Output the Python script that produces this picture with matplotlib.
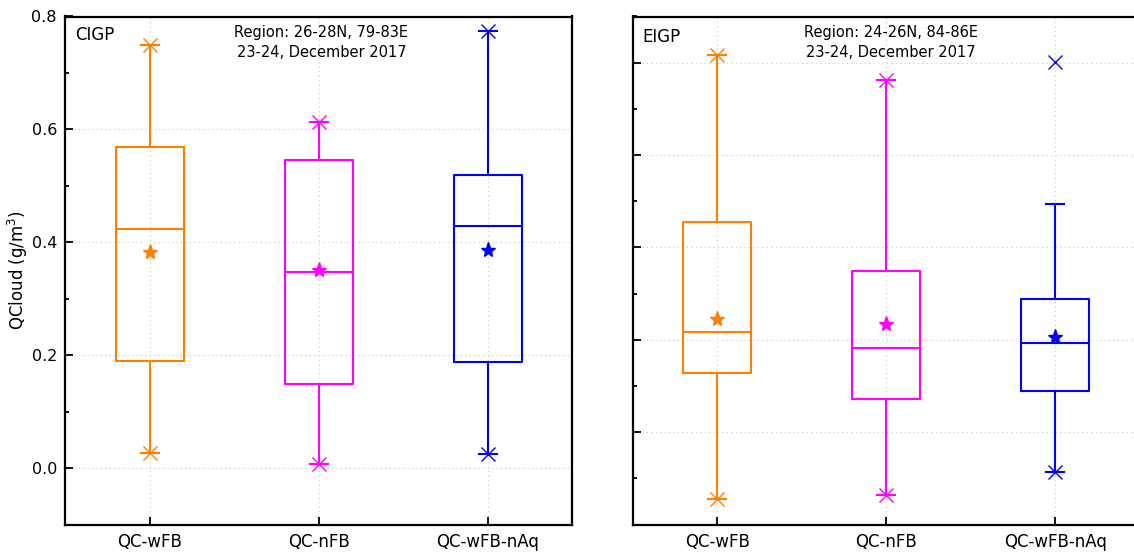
import matplotlib.pyplot as plt
from matplotlib.ticker import MultipleLocator, NullFormatter

categories = ["QC-wFB", "QC-nFB", "QC-wFB-nAq"]
colors = ["#FF8000", "#FF00FF", "#0000FF"]

# CIGP panel (g/m3)
cigp_lo = [0.026, 0.008, 0.025]
cigp_q1 = [0.190, 0.149, 0.188]
cigp_med = [0.423, 0.348, 0.428]
cigp_q3 = [0.568, 0.545, 0.520]
cigp_hi = [0.749, 0.613, 0.774]
cigp_mean = [0.383, 0.351, 0.386]
cigp_pmin = [0.026, 0.008, 0.025]
cigp_pmax = [0.749, 0.613, 0.774]

# EIGP panel (axis has no labels in the original)
eigp_lo = [0.055, 0.063, 0.113]
eigp_q1 = [0.327, 0.272, 0.288]
eigp_med = [0.416, 0.382, 0.393]
eigp_q3 = [0.655, 0.550, 0.488]
eigp_hi = [1.017, 0.963, 0.693]
eigp_mean = [0.445, 0.434, 0.406]
eigp_pmin = [0.055, 0.063, 0.113]
eigp_pmax = [1.017, 0.963, 1.002]

plt.rcParams["font.family"] = "DejaVu Sans"

W, H = 1134, 557
fig = plt.figure(figsize=(W / 100, H / 100), dpi=100)
fig.patch.set_facecolor("white")

ax1 = fig.add_axes([65.3 / W, 32.5 / H, 507 / W, 508 / H])
ax2 = fig.add_axes([632.7 / W, 32.5 / H, 507 / W, 508 / H])


def draw_panel(ax, lo, q1, med, q3, hi, mean, pmin, pmax):
    for i, c in enumerate(colors):
        stats = [dict(whislo=lo[i], q1=q1[i], med=med[i], q3=q3[i],
                      whishi=hi[i], fliers=[])]
        lp = dict(color=c, linewidth=1.5)
        ax.bxp(stats, positions=[i + 1], widths=0.4, capwidths=0.11,
               showfliers=False, manage_ticks=False,
               boxprops=lp, medianprops=lp, whiskerprops=lp, capprops=lp,
               zorder=3)
        ax.plot(i + 1, mean[i], marker="*", color=c, markersize=11,
                linestyle="none", zorder=4)
        ax.plot([i + 1, i + 1], [pmin[i], pmax[i]], marker="x", color=c,
                markersize=10, markeredgewidth=1.0, linestyle="none",
                zorder=4)

    ax.set_xlim(0.5, 3.5)
    ax.set_xticks([1, 2, 3])
    ax.set_xticklabels(categories, fontsize=12)
    ax.yaxis.set_minor_locator(MultipleLocator(0.1))
    ax.yaxis.set_major_locator(MultipleLocator(0.2))
    ax.grid(True, which="major", color="#c8c8c8", linestyle=(0, (1, 3)),
            linewidth=0.8, zorder=0)
    ax.set_axisbelow(True)
    for s in ax.spines.values():
        s.set_linewidth(1.6)
    ax.tick_params(axis="both", which="major", direction="in", length=6,
                   width=1.3, pad=6, labelsize=12)
    ax.tick_params(axis="y", which="minor", direction="in", length=3,
                   width=1.3)
    ax.tick_params(axis="x", which="minor", bottom=False)


draw_panel(ax1, cigp_lo, cigp_q1, cigp_med, cigp_q3, cigp_hi, cigp_mean,
           cigp_pmin, cigp_pmax)
draw_panel(ax2, eigp_lo, eigp_q1, eigp_med, eigp_q3, eigp_hi, eigp_mean,
           eigp_pmin, eigp_pmax)

ax1.set_ylim(-0.1, 0.8)
ax1.tick_params(axis="y", labelsize=11.5, pad=6)
ax1.yaxis.set_major_formatter(lambda v, p: f"{v:.1f}")
ax1.set_ylabel("QCloud (g/m$^3$)", fontsize=12)
ax1.yaxis.set_label_coords(-0.07, 0.5)

ax2.set_ylim(0.0, 1.1)
ax2.yaxis.set_major_formatter(NullFormatter())

ax1.text(0.02, 0.963, "CIGP", transform=ax1.transAxes, fontsize=12,
         va="center", ha="left")
ax2.text(0.02, 0.960, "EIGP", transform=ax2.transAxes, fontsize=12,
         va="center", ha="left")
ax1.text(0.505, 0.949, "Region: 26-28N, 79-83E\n23-24, December 2017",
         transform=ax1.transAxes, fontsize=10.5, ha="center", va="center",
         linespacing=1.45)
ax2.text(0.509, 0.949, "Region: 24-26N, 84-86E\n23-24, December 2017",
         transform=ax2.transAxes, fontsize=10.5, ha="center", va="center",
         linespacing=1.45)

fig.savefig("out.png", dpi=100, facecolor="white")
